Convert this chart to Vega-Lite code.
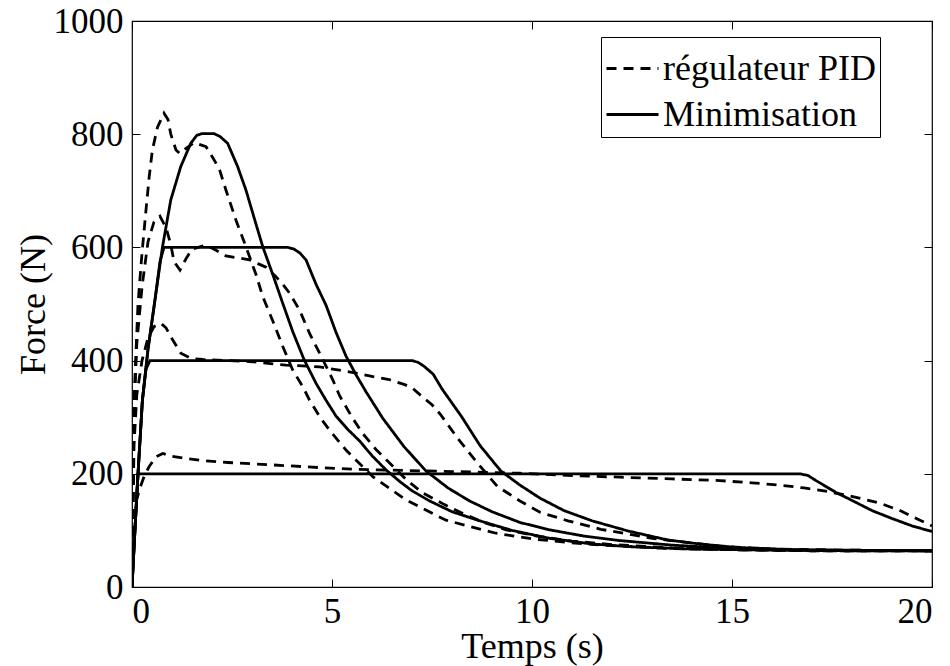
{
  "$schema": "https://vega.github.io/schema/vega-lite/v6.json",
  "width": 800,
  "height": 566,
  "autosize": {"type": "none"},
  "padding": {"left": 132, "top": 21, "right": 18, "bottom": 79},
  "background": "white",
  "config": {
    "view": {"stroke": "black", "strokeWidth": 1.2},
    "font": "Liberation Serif",
    "axis": {
      "domain": false,
      "grid": false,
      "tickColor": "black",
      "tickSize": -8,
      "tickWidth": 1,
      "labelFont": "Liberation Serif",
      "labelFontSize": 35,
      "labelColor": "black",
      "titleFont": "Liberation Serif",
      "titleFontSize": 36,
      "titleFontWeight": "normal",
      "titleColor": "black",
      "format": "d"
    }
  },
  "data": {"values": [
    {"method":"Minimisation","curve":"Min800","t":0,"F":0},
    {"method":"Minimisation","curve":"Min800","t":0.08,"F":110},
    {"method":"Minimisation","curve":"Min800","t":0.15,"F":200},
    {"method":"Minimisation","curve":"Min800","t":0.26,"F":330},
    {"method":"Minimisation","curve":"Min800","t":0.4,"F":420},
    {"method":"Minimisation","curve":"Min800","t":0.58,"F":510},
    {"method":"Minimisation","curve":"Min800","t":0.76,"F":600},
    {"method":"Minimisation","curve":"Min800","t":0.97,"F":684},
    {"method":"Minimisation","curve":"Min800","t":1.22,"F":743},
    {"method":"Minimisation","curve":"Min800","t":1.47,"F":784},
    {"method":"Minimisation","curve":"Min800","t":1.62,"F":798},
    {"method":"Minimisation","curve":"Min800","t":1.75,"F":801},
    {"method":"Minimisation","curve":"Min800","t":2.05,"F":801},
    {"method":"Minimisation","curve":"Min800","t":2.2,"F":796},
    {"method":"Minimisation","curve":"Min800","t":2.39,"F":784},
    {"method":"Minimisation","curve":"Min800","t":2.64,"F":743},
    {"method":"Minimisation","curve":"Min800","t":2.85,"F":701},
    {"method":"Minimisation","curve":"Min800","t":3.05,"F":653},
    {"method":"Minimisation","curve":"Min800","t":3.27,"F":601},
    {"method":"Minimisation","curve":"Min800","t":3.52,"F":552},
    {"method":"Minimisation","curve":"Min800","t":3.75,"F":505},
    {"method":"Minimisation","curve":"Min800","t":4.02,"F":451},
    {"method":"Minimisation","curve":"Min800","t":4.3,"F":402},
    {"method":"Minimisation","curve":"Min800","t":4.6,"F":360},
    {"method":"Minimisation","curve":"Min800","t":4.85,"F":330},
    {"method":"Minimisation","curve":"Min800","t":5.1,"F":302},
    {"method":"Minimisation","curve":"Min800","t":5.4,"F":278},
    {"method":"Minimisation","curve":"Min800","t":5.69,"F":258},
    {"method":"Minimisation","curve":"Min800","t":6.0,"F":232},
    {"method":"Minimisation","curve":"Min800","t":6.35,"F":207},
    {"method":"Minimisation","curve":"Min800","t":6.7,"F":186},
    {"method":"Minimisation","curve":"Min800","t":7.0,"F":170},
    {"method":"Minimisation","curve":"Min800","t":7.44,"F":152},
    {"method":"Minimisation","curve":"Min800","t":8.0,"F":133},
    {"method":"Minimisation","curve":"Min800","t":8.69,"F":117},
    {"method":"Minimisation","curve":"Min800","t":9.5,"F":100},
    {"method":"Minimisation","curve":"Min800","t":10.44,"F":86},
    {"method":"Minimisation","curve":"Min800","t":11.5,"F":76},
    {"method":"Minimisation","curve":"Min800","t":12.5,"F":71},
    {"method":"Minimisation","curve":"Min800","t":14,"F":67},
    {"method":"Minimisation","curve":"Min800","t":16,"F":65},
    {"method":"Minimisation","curve":"Min800","t":18,"F":64},
    {"method":"Minimisation","curve":"Min800","t":20,"F":64},

    {"method":"Minimisation","curve":"Min600","t":0,"F":0},
    {"method":"Minimisation","curve":"Min600","t":0.08,"F":110},
    {"method":"Minimisation","curve":"Min600","t":0.15,"F":200},
    {"method":"Minimisation","curve":"Min600","t":0.26,"F":330},
    {"method":"Minimisation","curve":"Min600","t":0.4,"F":420},
    {"method":"Minimisation","curve":"Min600","t":0.58,"F":510},
    {"method":"Minimisation","curve":"Min600","t":0.7,"F":575},
    {"method":"Minimisation","curve":"Min600","t":0.8,"F":600},
    {"method":"Minimisation","curve":"Min600","t":3.9,"F":600},
    {"method":"Minimisation","curve":"Min600","t":4.05,"F":597},
    {"method":"Minimisation","curve":"Min600","t":4.2,"F":590},
    {"method":"Minimisation","curve":"Min600","t":4.35,"F":578},
    {"method":"Minimisation","curve":"Min600","t":4.6,"F":535},
    {"method":"Minimisation","curve":"Min600","t":4.85,"F":498},
    {"method":"Minimisation","curve":"Min600","t":5.1,"F":450},
    {"method":"Minimisation","curve":"Min600","t":5.35,"F":408},
    {"method":"Minimisation","curve":"Min600","t":5.6,"F":375},
    {"method":"Minimisation","curve":"Min600","t":5.85,"F":345},
    {"method":"Minimisation","curve":"Min600","t":6.27,"F":298},
    {"method":"Minimisation","curve":"Min600","t":6.8,"F":248},
    {"method":"Minimisation","curve":"Min600","t":7.35,"F":205},
    {"method":"Minimisation","curve":"Min600","t":7.9,"F":175},
    {"method":"Minimisation","curve":"Min600","t":8.44,"F":152},
    {"method":"Minimisation","curve":"Min600","t":9.0,"F":133},
    {"method":"Minimisation","curve":"Min600","t":9.7,"F":114},
    {"method":"Minimisation","curve":"Min600","t":10.44,"F":101},
    {"method":"Minimisation","curve":"Min600","t":11.3,"F":90},
    {"method":"Minimisation","curve":"Min600","t":12.2,"F":82},
    {"method":"Minimisation","curve":"Min600","t":13.5,"F":74},
    {"method":"Minimisation","curve":"Min600","t":15,"F":68},
    {"method":"Minimisation","curve":"Min600","t":17,"F":65},
    {"method":"Minimisation","curve":"Min600","t":20,"F":64},

    {"method":"Minimisation","curve":"Min400","t":0,"F":0},
    {"method":"Minimisation","curve":"Min400","t":0.08,"F":110},
    {"method":"Minimisation","curve":"Min400","t":0.15,"F":200},
    {"method":"Minimisation","curve":"Min400","t":0.26,"F":330},
    {"method":"Minimisation","curve":"Min400","t":0.35,"F":385},
    {"method":"Minimisation","curve":"Min400","t":0.45,"F":400},
    {"method":"Minimisation","curve":"Min400","t":7.0,"F":400},
    {"method":"Minimisation","curve":"Min400","t":7.15,"F":397},
    {"method":"Minimisation","curve":"Min400","t":7.3,"F":390},
    {"method":"Minimisation","curve":"Min400","t":7.53,"F":376},
    {"method":"Minimisation","curve":"Min400","t":7.75,"F":350},
    {"method":"Minimisation","curve":"Min400","t":8.0,"F":325},
    {"method":"Minimisation","curve":"Min400","t":8.24,"F":301},
    {"method":"Minimisation","curve":"Min400","t":8.7,"F":250},
    {"method":"Minimisation","curve":"Min400","t":9.22,"F":205},
    {"method":"Minimisation","curve":"Min400","t":9.7,"F":180},
    {"method":"Minimisation","curve":"Min400","t":10.2,"F":157},
    {"method":"Minimisation","curve":"Min400","t":10.8,"F":135},
    {"method":"Minimisation","curve":"Min400","t":11.5,"F":117},
    {"method":"Minimisation","curve":"Min400","t":12.4,"F":99},
    {"method":"Minimisation","curve":"Min400","t":13.4,"F":83},
    {"method":"Minimisation","curve":"Min400","t":14.2,"F":76},
    {"method":"Minimisation","curve":"Min400","t":15.1,"F":70},
    {"method":"Minimisation","curve":"Min400","t":16.5,"F":66},
    {"method":"Minimisation","curve":"Min400","t":18,"F":65},
    {"method":"Minimisation","curve":"Min400","t":20,"F":64},

    {"method":"Minimisation","curve":"Min200","t":0,"F":0},
    {"method":"Minimisation","curve":"Min200","t":0.08,"F":110},
    {"method":"Minimisation","curve":"Min200","t":0.15,"F":200},
    {"method":"Minimisation","curve":"Min200","t":16.7,"F":200},
    {"method":"Minimisation","curve":"Min200","t":16.9,"F":197},
    {"method":"Minimisation","curve":"Min200","t":17.1,"F":188},
    {"method":"Minimisation","curve":"Min200","t":17.6,"F":167},
    {"method":"Minimisation","curve":"Min200","t":18.0,"F":153},
    {"method":"Minimisation","curve":"Min200","t":18.5,"F":135},
    {"method":"Minimisation","curve":"Min200","t":19.0,"F":121},
    {"method":"Minimisation","curve":"Min200","t":19.5,"F":108},
    {"method":"Minimisation","curve":"Min200","t":20,"F":98},

    {"method":"régulateur PID","curve":"PID200","t":0,"F":0},
    {"method":"régulateur PID","curve":"PID200","t":0.04,"F":140},
    {"method":"régulateur PID","curve":"PID200","t":0.1,"F":150},
    {"method":"régulateur PID","curve":"PID200","t":0.2,"F":175},
    {"method":"régulateur PID","curve":"PID200","t":0.3,"F":195},
    {"method":"régulateur PID","curve":"PID200","t":0.43,"F":213},
    {"method":"régulateur PID","curve":"PID200","t":0.6,"F":230},
    {"method":"régulateur PID","curve":"PID200","t":0.77,"F":236},
    {"method":"régulateur PID","curve":"PID200","t":1.0,"F":231},
    {"method":"régulateur PID","curve":"PID200","t":1.35,"F":227},
    {"method":"régulateur PID","curve":"PID200","t":1.8,"F":223},
    {"method":"régulateur PID","curve":"PID200","t":2.4,"F":220},
    {"method":"régulateur PID","curve":"PID200","t":3.44,"F":216},
    {"method":"régulateur PID","curve":"PID200","t":4.69,"F":211},
    {"method":"régulateur PID","curve":"PID200","t":5.52,"F":208},
    {"method":"régulateur PID","curve":"PID200","t":6.77,"F":206},
    {"method":"régulateur PID","curve":"PID200","t":8.0,"F":204},
    {"method":"régulateur PID","curve":"PID200","t":9.7,"F":201},
    {"method":"régulateur PID","curve":"PID200","t":11.0,"F":197},
    {"method":"régulateur PID","curve":"PID200","t":12.2,"F":194},
    {"method":"régulateur PID","curve":"PID200","t":13.5,"F":191},
    {"method":"régulateur PID","curve":"PID200","t":14.7,"F":188},
    {"method":"régulateur PID","curve":"PID200","t":15.5,"F":184},
    {"method":"régulateur PID","curve":"PID200","t":16.2,"F":180},
    {"method":"régulateur PID","curve":"PID200","t":16.8,"F":175},
    {"method":"régulateur PID","curve":"PID200","t":17.3,"F":170},
    {"method":"régulateur PID","curve":"PID200","t":17.8,"F":163},
    {"method":"régulateur PID","curve":"PID200","t":18.3,"F":155},
    {"method":"régulateur PID","curve":"PID200","t":18.7,"F":148},
    {"method":"régulateur PID","curve":"PID200","t":19.2,"F":135},
    {"method":"régulateur PID","curve":"PID200","t":19.7,"F":118},
    {"method":"régulateur PID","curve":"PID200","t":20,"F":108},

    {"method":"régulateur PID","curve":"PID400","t":0,"F":0},
    {"method":"régulateur PID","curve":"PID400","t":0.05,"F":250},
    {"method":"régulateur PID","curve":"PID400","t":0.12,"F":340},
    {"method":"régulateur PID","curve":"PID400","t":0.25,"F":400},
    {"method":"régulateur PID","curve":"PID400","t":0.4,"F":440},
    {"method":"régulateur PID","curve":"PID400","t":0.55,"F":460},
    {"method":"régulateur PID","curve":"PID400","t":0.72,"F":466},
    {"method":"régulateur PID","curve":"PID400","t":0.85,"F":458},
    {"method":"régulateur PID","curve":"PID400","t":0.97,"F":442},
    {"method":"régulateur PID","curve":"PID400","t":1.22,"F":413},
    {"method":"régulateur PID","curve":"PID400","t":1.47,"F":404},
    {"method":"régulateur PID","curve":"PID400","t":1.77,"F":402},
    {"method":"régulateur PID","curve":"PID400","t":2.4,"F":400},
    {"method":"régulateur PID","curve":"PID400","t":3.02,"F":398},
    {"method":"régulateur PID","curve":"PID400","t":3.85,"F":392},
    {"method":"régulateur PID","curve":"PID400","t":4.69,"F":389},
    {"method":"régulateur PID","curve":"PID400","t":5.1,"F":384},
    {"method":"régulateur PID","curve":"PID400","t":5.6,"F":378},
    {"method":"régulateur PID","curve":"PID400","t":6.0,"F":372},
    {"method":"régulateur PID","curve":"PID400","t":6.4,"F":367},
    {"method":"régulateur PID","curve":"PID400","t":6.8,"F":358},
    {"method":"régulateur PID","curve":"PID400","t":7.0,"F":352},
    {"method":"régulateur PID","curve":"PID400","t":7.26,"F":336},
    {"method":"régulateur PID","curve":"PID400","t":7.5,"F":322},
    {"method":"régulateur PID","curve":"PID400","t":7.71,"F":305},
    {"method":"régulateur PID","curve":"PID400","t":8.15,"F":262},
    {"method":"régulateur PID","curve":"PID400","t":8.6,"F":222},
    {"method":"régulateur PID","curve":"PID400","t":9.13,"F":178},
    {"method":"régulateur PID","curve":"PID400","t":9.7,"F":152},
    {"method":"régulateur PID","curve":"PID400","t":10.2,"F":132},
    {"method":"régulateur PID","curve":"PID400","t":10.9,"F":117},
    {"method":"régulateur PID","curve":"PID400","t":11.72,"F":102},
    {"method":"régulateur PID","curve":"PID400","t":13.0,"F":86},
    {"method":"régulateur PID","curve":"PID400","t":14.7,"F":72},
    {"method":"régulateur PID","curve":"PID400","t":16,"F":67},
    {"method":"régulateur PID","curve":"PID400","t":18,"F":65},
    {"method":"régulateur PID","curve":"PID400","t":20,"F":64},

    {"method":"régulateur PID","curve":"PID600","t":0,"F":0},
    {"method":"régulateur PID","curve":"PID600","t":0.05,"F":300},
    {"method":"régulateur PID","curve":"PID600","t":0.12,"F":430},
    {"method":"régulateur PID","curve":"PID600","t":0.25,"F":530},
    {"method":"régulateur PID","curve":"PID600","t":0.4,"F":610},
    {"method":"régulateur PID","curve":"PID600","t":0.55,"F":645},
    {"method":"régulateur PID","curve":"PID600","t":0.7,"F":655},
    {"method":"régulateur PID","curve":"PID600","t":0.85,"F":635},
    {"method":"régulateur PID","curve":"PID600","t":0.97,"F":605},
    {"method":"régulateur PID","curve":"PID600","t":1.05,"F":575},
    {"method":"régulateur PID","curve":"PID600","t":1.2,"F":560},
    {"method":"régulateur PID","curve":"PID600","t":1.35,"F":580},
    {"method":"régulateur PID","curve":"PID600","t":1.5,"F":597},
    {"method":"régulateur PID","curve":"PID600","t":1.85,"F":604},
    {"method":"régulateur PID","curve":"PID600","t":2.1,"F":595},
    {"method":"régulateur PID","curve":"PID600","t":2.35,"F":585},
    {"method":"régulateur PID","curve":"PID600","t":2.94,"F":578},
    {"method":"régulateur PID","curve":"PID600","t":3.19,"F":570},
    {"method":"régulateur PID","curve":"PID600","t":3.35,"F":565},
    {"method":"régulateur PID","curve":"PID600","t":3.6,"F":548},
    {"method":"régulateur PID","curve":"PID600","t":3.77,"F":535},
    {"method":"régulateur PID","curve":"PID600","t":3.94,"F":519},
    {"method":"régulateur PID","curve":"PID600","t":4.19,"F":489},
    {"method":"régulateur PID","curve":"PID600","t":4.44,"F":448},
    {"method":"régulateur PID","curve":"PID600","t":4.69,"F":413},
    {"method":"régulateur PID","curve":"PID600","t":5.02,"F":366},
    {"method":"régulateur PID","curve":"PID600","t":5.19,"F":338},
    {"method":"régulateur PID","curve":"PID600","t":5.5,"F":300},
    {"method":"régulateur PID","curve":"PID600","t":5.77,"F":271},
    {"method":"régulateur PID","curve":"PID600","t":6.1,"F":243},
    {"method":"régulateur PID","curve":"PID600","t":6.44,"F":219},
    {"method":"régulateur PID","curve":"PID600","t":6.85,"F":190},
    {"method":"régulateur PID","curve":"PID600","t":7.27,"F":166},
    {"method":"régulateur PID","curve":"PID600","t":7.8,"F":146},
    {"method":"régulateur PID","curve":"PID600","t":8.27,"F":130},
    {"method":"régulateur PID","curve":"PID600","t":8.8,"F":114},
    {"method":"régulateur PID","curve":"PID600","t":9.35,"F":101},
    {"method":"régulateur PID","curve":"PID600","t":10.2,"F":89},
    {"method":"régulateur PID","curve":"PID600","t":11,"F":81},
    {"method":"régulateur PID","curve":"PID600","t":12,"F":75},
    {"method":"régulateur PID","curve":"PID600","t":13.5,"F":69},
    {"method":"régulateur PID","curve":"PID600","t":15,"F":66},
    {"method":"régulateur PID","curve":"PID600","t":17,"F":64},
    {"method":"régulateur PID","curve":"PID600","t":20,"F":64},

    {"method":"régulateur PID","curve":"PID800","t":0,"F":0},
    {"method":"régulateur PID","curve":"PID800","t":0.05,"F":330},
    {"method":"régulateur PID","curve":"PID800","t":0.15,"F":500},
    {"method":"régulateur PID","curve":"PID800","t":0.25,"F":590},
    {"method":"régulateur PID","curve":"PID800","t":0.35,"F":666},
    {"method":"régulateur PID","curve":"PID800","t":0.43,"F":725},
    {"method":"régulateur PID","curve":"PID800","t":0.51,"F":772},
    {"method":"régulateur PID","curve":"PID800","t":0.64,"F":813},
    {"method":"régulateur PID","curve":"PID800","t":0.8,"F":837},
    {"method":"régulateur PID","curve":"PID800","t":0.9,"F":826},
    {"method":"régulateur PID","curve":"PID800","t":0.97,"F":800},
    {"method":"régulateur PID","curve":"PID800","t":1.1,"F":772},
    {"method":"régulateur PID","curve":"PID800","t":1.19,"F":766},
    {"method":"régulateur PID","curve":"PID800","t":1.35,"F":775},
    {"method":"régulateur PID","curve":"PID800","t":1.55,"F":785},
    {"method":"régulateur PID","curve":"PID800","t":1.85,"F":778},
    {"method":"régulateur PID","curve":"PID800","t":2.05,"F":755},
    {"method":"régulateur PID","curve":"PID800","t":2.19,"F":737},
    {"method":"régulateur PID","curve":"PID800","t":2.35,"F":701},
    {"method":"régulateur PID","curve":"PID800","t":2.6,"F":648},
    {"method":"régulateur PID","curve":"PID800","t":2.85,"F":601},
    {"method":"régulateur PID","curve":"PID800","t":3.1,"F":552},
    {"method":"régulateur PID","curve":"PID800","t":3.27,"F":513},
    {"method":"régulateur PID","curve":"PID800","t":3.52,"F":470},
    {"method":"régulateur PID","curve":"PID800","t":3.77,"F":425},
    {"method":"régulateur PID","curve":"PID800","t":4.02,"F":383},
    {"method":"régulateur PID","curve":"PID800","t":4.27,"F":354},
    {"method":"régulateur PID","curve":"PID800","t":4.44,"F":330},
    {"method":"régulateur PID","curve":"PID800","t":4.7,"F":300},
    {"method":"régulateur PID","curve":"PID800","t":4.94,"F":277},
    {"method":"régulateur PID","curve":"PID800","t":5.35,"F":242},
    {"method":"régulateur PID","curve":"PID800","t":6.02,"F":195},
    {"method":"régulateur PID","curve":"PID800","t":6.85,"F":154},
    {"method":"régulateur PID","curve":"PID800","t":7.85,"F":118},
    {"method":"régulateur PID","curve":"PID800","t":9.1,"F":95},
    {"method":"régulateur PID","curve":"PID800","t":10,"F":85},
    {"method":"régulateur PID","curve":"PID800","t":11,"F":78},
    {"method":"régulateur PID","curve":"PID800","t":12,"F":73},
    {"method":"régulateur PID","curve":"PID800","t":13.5,"F":68},
    {"method":"régulateur PID","curve":"PID800","t":15,"F":66},
    {"method":"régulateur PID","curve":"PID800","t":17,"F":64},
    {"method":"régulateur PID","curve":"PID800","t":20,"F":64}
  ]},
  "layer": [
    {
      "mark": {"type": "line", "color": "black", "strokeWidth": 2.8, "clip": true},
      "encoding": {
        "x": {"field": "t", "type": "quantitative", "scale": {"domain": [0, 20], "nice": false},
          "axis": {"values": [0, 5, 10, 15, 20], "title": "Temps (s)", "labelPadding": 15, "titlePadding": 0, "orient": "bottom"}},
        "y": {"field": "F", "type": "quantitative", "scale": {"domain": [0, 1000], "nice": false},
          "axis": {"values": [0, 200, 400, 600, 800, 1000], "title": "Force (N)", "labelPadding": 17, "titlePadding": 1, "orient": "left"}},
        "detail": {"field": "curve"},
        "strokeDash": {"field": "method", "type": "nominal",
          "scale": {"domain": ["régulateur PID", "Minimisation"], "range": [[10, 7], [1, 0]]},
          "legend": {
            "title": null,
            "orient": "none",
            "legendX": 469,
            "legendY": 16,
            "padding": 4,
            "strokeColor": "black",
            "fillColor": "white",
            "symbolType": "stroke",
            "symbolSize": 2704,
            "symbolStrokeWidth": 2.8,
            "symbolStrokeColor": "black",
            "labelFont": "Liberation Serif",
            "labelFontSize": 36,
            "labelColor": "black",
            "labelOffset": 3,
            "rowPadding": -7,
            "labelLimit": 400
          }}
      }
    },
    {
      "mark": {"type": "line", "opacity": 0},
      "encoding": {
        "x": {"field": "t", "type": "quantitative",
          "axis": {"values": [0, 5, 10, 15, 20], "labels": false, "title": null, "orient": "top"}},
        "y": {"field": "F", "type": "quantitative",
          "axis": {"values": [0, 200, 400, 600, 800, 1000], "labels": false, "title": null, "orient": "right"}},
        "detail": {"field": "curve"}
      }
    }
  ],
  "resolve": {"axis": {"x": "independent", "y": "independent"}}
}
